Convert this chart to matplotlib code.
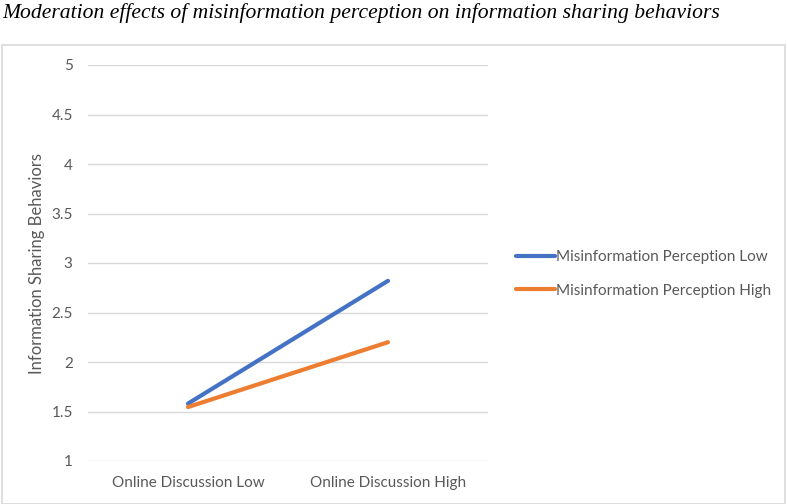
import matplotlib
matplotlib.use("Agg")
import matplotlib.pyplot as plt
from matplotlib.patches import Rectangle

categories = ["Online Discussion Low", "Online Discussion High"]
series_names = ["Misinformation Perception Low", "Misinformation Perception High"]
low_values = [1.58, 2.82]
high_values = [1.545, 2.20]
yticks = [1, 1.5, 2, 2.5, 3, 3.5, 4, 4.5, 5]
ytick_labels = ["1", "1.5", "2", "2.5", "3", "3.5", "4", "4.5", "5"]
colors = ["#4472C4", "#ED7D31"]
W, H = 787, 504
FONT = "Lato"
FS = 11

fig = plt.figure(figsize=(W / 100, H / 100), dpi=100)
fig.patch.set_facecolor("white")

# chart border
fig.patches.append(Rectangle((2 / W, 0), 783 / W, 1 - 45 / H, transform=fig.transFigure,
                             fill=False, edgecolor="#D9D9D9", linewidth=1.2))

fig.text(2 / W, 1 - 13 / H, "Moderation effects of misinformation perception on information sharing behaviors",
         family="Liberation Serif", style="italic", fontsize=15.6, va="center", ha="left", color="black")

ax = fig.add_axes([88 / W, 1 - 461 / H, 400 / W, (461 - 65) / H])
x = [0, 1]
ax.plot(x, low_values, color=colors[0], lw=3, solid_capstyle="round", label=series_names[0])
ax.plot(x, high_values, color=colors[1], lw=3, solid_capstyle="round", label=series_names[1])
ax.set_xlim(-0.5, 1.5)
ax.set_ylim(1, 5)
ax.set_yticks(yticks)
ax.set_yticklabels(ytick_labels)
ax.set_xticks(x)
ax.set_xticklabels(categories)
ax.grid(axis="y", color="#D9D9D9", lw=1)
ax.set_axisbelow(True)
for s in ax.spines.values():
    s.set_visible(False)
ax.tick_params(length=0, colors="#595959", labelsize=FS)
ax.tick_params(axis="y", pad=11)
ax.tick_params(axis="x", pad=11)
for lab in ax.get_xticklabels() + ax.get_yticklabels():
    lab.set_family(FONT)
ax.set_ylabel("Information Sharing Behaviors", family=FONT, fontsize=12, color="#595959", labelpad=4.5)

leg = ax.legend(loc="center left", bbox_to_anchor=(502 / 400 - 88 / 400, (461 - 274) / 396),
                frameon=False, prop={"family": FONT, "size": FS},
                handlelength=2.6, handletextpad=0.05, labelspacing=1.25)
for t in leg.get_texts():
    t.set_color("#595959")

fig.savefig("out.png", dpi=100, facecolor="white")
